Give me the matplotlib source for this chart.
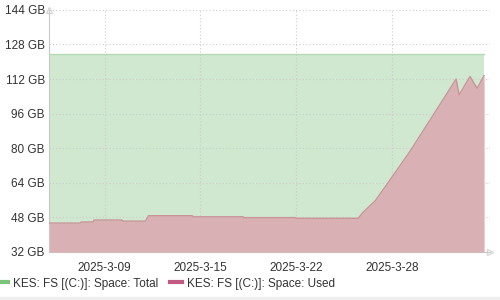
import numpy as np
import matplotlib
matplotlib.use('Agg')
import matplotlib.pyplot as plt
from matplotlib.lines import Line2D
from matplotlib.patches import Rectangle

plt.rcParams['font.family'] = ['Liberation Sans', 'DejaVu Sans']

# day of March 2025 (fractional) and used space in GB
used_day = [5.37, 7.40, 7.45, 8.25, 8.30, 10.15, 10.20, 11.70, 11.90, 14.80, 14.85,
            18.15, 18.20, 21.60, 21.66, 25.75, 26.08, 26.88, 27.67, 29.18,
            32.22, 32.42, 33.14, 33.60, 33.74, 34.07]
used_gb = [45.4, 45.4, 45.9, 45.9, 46.8, 46.8, 46.3, 46.3, 48.8, 48.8, 48.3,
           48.3, 47.9, 47.9, 47.6, 47.6, 50.4, 55.7, 63.5, 78.6,
           112.0, 104.7, 113.2, 107.8, 109.4, 113.6]

total_day = [5.37, 34.07]
total_gb = [123.8, 123.8]

tick_days = [9, 9 + 19 / 3, 9 + 38 / 3, 28]
tick_labels = ['2025-3-09', '2025-3-15', '2025-3-22', '2025-3-28']
y_ticks = [32, 48, 64, 80, 96, 112, 128, 144]

fig = plt.figure(figsize=(5, 3), dpi=100)
ax = fig.add_axes([0.098, 0.16, 0.882, 0.807])

ax.fill_between(total_day, 32, total_gb, color='#cfe8cf', lw=0, zorder=1)
ax.plot(total_day, total_gb, color='#b5dbb5', lw=1, zorder=2)
ax.fill_between(used_day, 32, used_gb, color='#d9b0b4', lw=0, zorder=3)
ax.plot(used_day, used_gb, color='#c99499', lw=1, zorder=4)

ax.set_xlim(5.33, 34.46)
ax.set_ylim(32, 144)
ax.set_yticks(y_ticks)
ax.set_yticklabels([f'{v} GB' for v in y_ticks])
ax.set_xticks(tick_days)
ax.set_xticklabels(tick_labels)
ax.tick_params(axis='y', length=0, labelsize=8.5, colors='#333333', pad=3)
ax.tick_params(axis='x', length=0, labelsize=8.5, colors='#333333', pad=7)
ax.grid(True, color='#cccccc', ls=(0, (1, 2)), lw=0.8, zorder=5)
ax.set_axisbelow(False)
for s in ['top', 'right']:
    ax.spines[s].set_visible(False)
ax.spines['left'].set_color('#c8c8c8')
ax.spines['bottom'].set_color('#c8c8c8')
ax.plot(1.0, 0, '>', transform=ax.transAxes, color='#d8d8d8', ms=4, clip_on=False, mfc='white')
ax.plot(0, 1.0, '^', transform=ax.transAxes, color='#d8d8d8', ms=4, clip_on=False, mfc='white')

handles = [Line2D([], [], color='#7cc47c', lw=3),
           Line2D([], [], color='#c05a82', lw=3)]
fig.legend(handles, ['KES: FS [(C:)]: Space: Total', 'KES: FS [(C:)]: Space: Used'],
           loc='center left', bbox_to_anchor=(-0.028, 0.055), ncol=2, frameon=False,
           fontsize=8.5, handlelength=1.0, handletextpad=0.4, columnspacing=1.0,
           labelcolor='#333333')

fig.patches.append(Rectangle((0, 0), 1, 0.01, transform=fig.transFigure,
                             color='#eeeeee', zorder=0))

fig.savefig('out.png', dpi=100)
